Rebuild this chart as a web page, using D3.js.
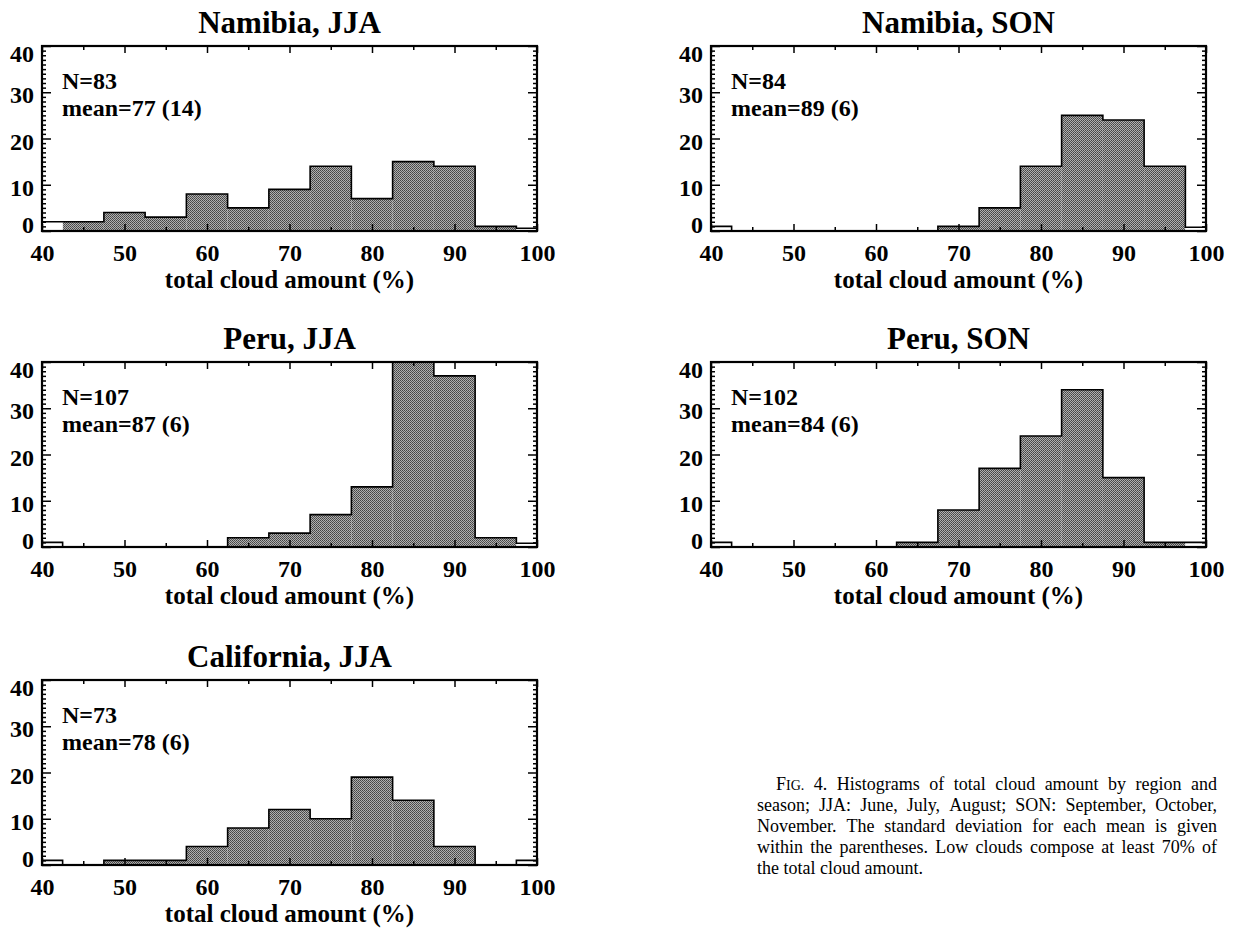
<!DOCTYPE html>
<html>
<head>
<meta charset="utf-8">
<script src="https://cdn.jsdelivr.net/npm/d3@7"></script>
<style>
  body { margin: 0; background: #fff; }
  svg { display: block; }
  text { font-family: "Liberation Serif", "Times New Roman", serif; fill: #000; }
</style>
</head>
<body>
<svg id="chart" width="1236" height="928"></svg>
<script>
// histogram bins (5% wide, centred on these values)
const binCenters = [45, 50, 55, 60, 65, 70, 75, 80, 85, 90, 95];

const namibiaJJA    = [2, 4, 3, 8, 5, 9, 14, 7, 15, 14, 1];
const namibiaSON    = [0, 0, 0, 0, 0, 1, 5, 14, 25, 24, 14];
const peruJJA       = [0, 0, 0, 0, 2, 3, 7, 13, 42, 37, 2];
const peruSON       = [0, 0, 0, 0, 1, 8, 17, 24, 34, 15, 1];
const californiaJJA = [0, 1, 1, 4, 8, 12, 10, 19, 14, 4, 0];

// the half bins at 40 and 100 are drawn as open boxes
const edgeLeft  = [2, 1, 1, 1, 1];
const edgeRight = [0.6, 0.8, 0.8, 1, 1];

const panelTitles = ["Namibia, JJA", "Namibia, SON", "Peru, JJA", "Peru, SON", "California, JJA"];
const panelN      = [83, 84, 107, 102, 73];
const panelMean   = ["77 (14)", "89 (6)", "87 (6)", "84 (6)", "78 (6)"];
const panelCounts = [namibiaJJA, namibiaSON, peruJJA, peruSON, californiaJJA];

const xTicks = [40, 50, 60, 70, 80, 90, 100];
const yTicks = [0, 10, 20, 30, 40];
const xLabel = "total cloud amount (%)";

const captionLines = [
  "FIG. 4. Histograms of total cloud amount by region and",
  "season; JJA: June, July, August; SON: September, October,",
  "November. The standard deviation for each mean is given",
  "within the parentheses. Low clouds compose at least 70% of",
  "the total cloud amount."
];

// layout
const colLeft = [42, 711];
const rowTop = [46, 362, 680];
const panelCell = [[0, 0], [1, 0], [0, 1], [1, 1], [0, 2]];
const plotW = 495, plotH = 185;

const svg = d3.select("#chart");

const defs = svg.append("defs");
const pat = defs.append("pattern")
  .attr("id", "dots")
  .attr("width", 2).attr("height", 2)
  .attr("patternUnits", "userSpaceOnUse");
pat.append("rect").attr("width", 2).attr("height", 2).attr("fill", "#b0b0b0");
pat.append("rect").attr("width", 1).attr("height", 1).attr("fill", "#444");
pat.append("rect").attr("x", 1).attr("y", 1).attr("width", 1).attr("height", 1).attr("fill", "#555");

function drawPanel(i) {
  const [c, r] = panelCell[i];
  const g = svg.append("g")
    .attr("transform", `translate(${colLeft[c]},${rowTop[r]})`);

  const x = d3.scaleLinear().domain([40, 100]).range([0, plotW]);
  const y = d3.scaleLinear().domain([0, 40]).range([plotH, 0]);

  defs.append("clipPath").attr("id", "clip" + i)
    .append("rect").attr("x", -2).attr("y", 0).attr("width", plotW + 4).attr("height", plotH + 2);

  const bars = g.append("g").attr("clip-path", `url(#clip${i})`);
  const counts = binCenters.map((b, k) => ({ lo: b - 2.5, hi: b + 2.5, v: panelCounts[i][k] }));
  const edges = [{ lo: 40, hi: 42.5, v: edgeLeft[i] }, { lo: 97.5, hi: 100, v: edgeRight[i] }];

  bars.selectAll("rect.bar")
    .data(counts)
    .join("rect")
    .attr("class", "bar")
    .attr("x", d => x(d.lo))
    .attr("width", d => x(d.hi) - x(d.lo))
    .attr("y", d => y(d.v))
    .attr("height", d => y(0) - y(d.v))
    .attr("fill", "url(#dots)");

  bars.selectAll("rect.edge")
    .data(edges)
    .join("rect")
    .attr("class", "edge")
    .attr("x", d => x(d.lo))
    .attr("width", d => x(d.hi) - x(d.lo))
    .attr("y", d => y(d.v))
    .attr("height", d => y(0) - y(d.v))
    .attr("fill", "#fff");

  // step outline over the whole histogram
  const steps = [edges[0], ...counts, edges[1]]
    .flatMap(d => [[x(d.lo), y(d.v)], [x(d.hi), y(d.v)]]);
  bars.append("path")
    .attr("d", d3.line()(steps))
    .attr("fill", "none")
    .attr("stroke", "#000")
    .attr("stroke-width", 1.6);

  const xMinor = d3.range(45, 100, 10);
  const yMinor = d3.range(0, 41, 1).filter(v => v % 10 !== 0);

  // bottom axis with labels
  const bx = g.append("g").attr("transform", `translate(0,${plotH})`)
    .call(d3.axisBottom(x).tickValues(xTicks).tickSize(-7).tickPadding(13));
  bx.selectAll("text").attr("font-size", 24).attr("font-weight", "bold")
    .style("font-family", '"Liberation Serif", serif');
  g.append("g").attr("transform", `translate(0,${plotH})`)
    .call(d3.axisBottom(x).tickValues(xMinor).tickSize(-4).tickFormat(""));

  // top axis
  g.append("g").call(d3.axisTop(x).tickValues(xTicks).tickSize(-7).tickFormat(""));
  g.append("g").call(d3.axisTop(x).tickValues(xMinor).tickSize(-4).tickFormat(""));

  // left axis with labels
  const ly = g.append("g")
    .call(d3.axisLeft(y).tickValues(yTicks).tickSize(-9).tickPadding(8));
  ly.selectAll("text")
    .attr("font-size", 24).attr("font-weight", "bold")
    .style("font-family", '"Liberation Serif", serif')
    .attr("dy", d => d === 40 ? "0.64em" : d === 0 ? "0.08em" : "0.44em");
  g.append("g").call(d3.axisLeft(y).tickValues(yMinor).tickSize(-4).tickFormat(""));

  // right axis
  g.append("g").attr("transform", `translate(${plotW},0)`)
    .call(d3.axisRight(y).tickValues(yTicks).tickSize(-9).tickFormat(""));
  g.append("g").attr("transform", `translate(${plotW},0)`)
    .call(d3.axisRight(y).tickValues(yMinor).tickSize(-4).tickFormat(""));

  g.selectAll(".domain").remove();
  g.selectAll(".tick line").attr("stroke", "#000").attr("stroke-width", 1.5);

  g.append("rect")
    .attr("width", plotW).attr("height", plotH)
    .attr("fill", "none").attr("stroke", "#000").attr("stroke-width", 2.2);

  g.append("text")
    .attr("x", plotW / 2).attr("y", -13)
    .attr("text-anchor", "middle")
    .attr("font-size", 31).attr("font-weight", "bold")
    .text(panelTitles[i]);

  g.append("text")
    .attr("x", 20).attr("y", 43)
    .attr("font-size", 24).attr("font-weight", "bold")
    .text("N=" + panelN[i]);
  g.append("text")
    .attr("x", 20).attr("y", 70)
    .attr("font-size", 24).attr("font-weight", "bold")
    .text("mean=" + panelMean[i]);

  g.append("text")
    .attr("x", plotW / 2).attr("y", plotH + 57)
    .attr("text-anchor", "middle")
    .attr("font-size", 25).attr("font-weight", "bold")
    .text(xLabel);
}

panelTitles.forEach((t, i) => drawPanel(i));

// justified caption
const capLeft = 757, capRight = 1217, capTop = 790, capStep = 21, capSize = 18;
const cap = svg.append("g");
captionLines.forEach((line, li) => {
  const words = line.split(" ");
  const startX = li === 0 ? capLeft + 19 : capLeft;
  const yy = capTop + li * capStep;
  const nodes = words.map((w, wi) => {
    const t = cap.append("text").attr("y", yy).attr("font-size", capSize);
    if (li === 0 && wi === 0) {
      t.append("tspan").text("F");
      t.append("tspan").attr("font-size", capSize * 0.78).text("IG.");
    } else {
      t.text(w);
    }
    return t;
  });
  const widths = nodes.map(n => n.node().getComputedTextLength());
  const total = d3.sum(widths);
  const last = li === captionLines.length - 1;
  let gap = last || words.length < 2 ? capSize * 0.25 : (capRight - startX - total) / (words.length - 1);
  gap = Math.max(gap, 2);
  let cx = startX;
  nodes.forEach((n, k) => {
    n.attr("x", cx);
    cx += widths[k] + gap;
  });
});
</script>
</body>
</html>
